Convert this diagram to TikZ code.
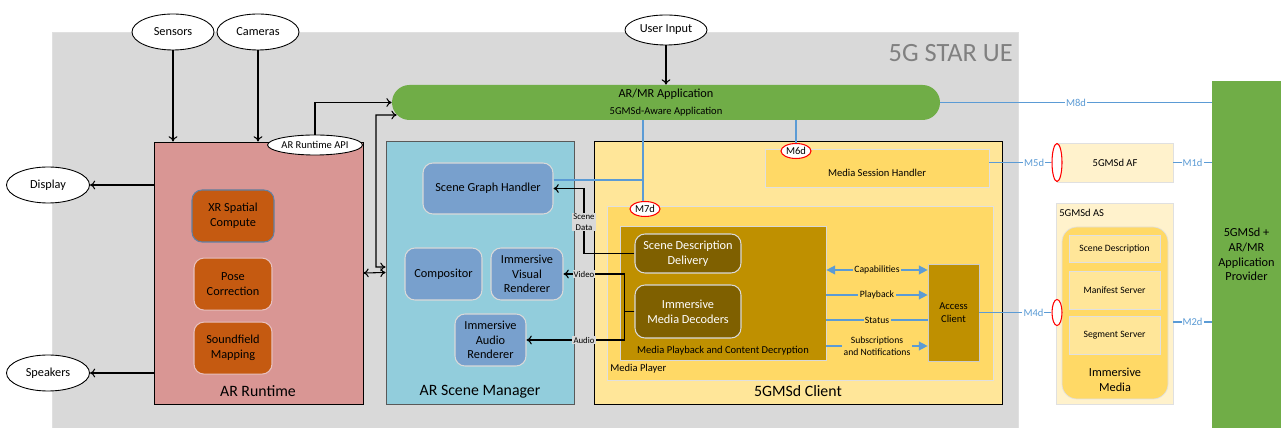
\documentclass[tikz,border=0pt]{standalone}
\usepackage{fontspec}
\setmainfont{Carlito}
\usetikzlibrary{positioning}
\usetikzlibrary{shapes.geometric}
\usetikzlibrary{arrows.meta}

\definecolor{uegray}{HTML}{D9D9D9}
\definecolor{rtpink}{HTML}{D99694}
\definecolor{rtorange}{HTML}{C55A11}
\definecolor{scmblue}{HTML}{92CDDC}
\definecolor{unitblue}{HTML}{78A0CD}
\definecolor{appgreen}{HTML}{70AD47}
\definecolor{clientyel}{HTML}{FFE699}
\definecolor{playeryel}{HTML}{FFD966}
\definecolor{playgold}{HTML}{BF9000}
\definecolor{sddbrown}{HTML}{7F6000}
\definecolor{cream}{HTML}{FFF2CC}
\definecolor{mblue}{HTML}{5B9BD5}

\begin{document}
\begin{tikzpicture}
      [ x=0.02cm, y=-0.02cm
        , node distance=0.3cm
        , every node/.style={inner sep=0pt, align=center, font=\fontsize{7}{8.4}\selectfont}
        , wh/.style 2 args={minimum width=#1*0.02cm, minimum height=#2*0.02cm}
        , fsmall/.style={font=\fontsize{6}{7.2}\selectfont}
        , ftiny/.style={font=\fontsize{5.5}{6.6}\selectfont}
        , fbig/.style={font=\fontsize{9}{11}\selectfont}
        , oval/.style={ellipse, draw, fill=white, line width=0.5pt}
        , ring/.style={ellipse, draw=red, fill=white, line width=0.6pt}
        , unit/.style={rectangle, rounded corners=0.2cm, draw=black!15, line width=0.6pt}
        , arr/.style={-{To[length=3pt,width=5pt]}, line width=0.6pt}
        , mline/.style={draw=mblue, line width=0.8pt}
        , barr/.style={mline, -{Triangle[length=5pt,width=5pt]}}
        , bbarr/.style={mline, {Triangle[length=5pt,width=5pt]}-{Triangle[length=5pt,width=5pt]}}
        , mtag/.style={fsmall, text=mblue, fill=white, inner sep=0.6pt}
        , ptag/.style={ftiny, fill=playeryel, inner sep=0.8pt}
        , gtag/.style={font=\fontsize{5}{6}\selectfont, fill=uegray, inner sep=0.6pt}
      ]
      \useasboundingbox (0,0) rectangle (1281,428);

      % UE frame
      \node (ue) [rectangle, fill=uegray, draw=black!12, wh={966}{396}] at (535,230) {};
      \node (uettl) [anchor=east, text=black!50, font=\fontsize{15}{18}\selectfont] at (1013,53) {5G STAR UE};

      \node (sensors) [oval, wh={82}{36}] at (173,32) {Sensors};
      \node (cameras) [oval, wh={82}{36}] at (258,32) {Cameras};
      \node (userin) [oval, wh={82}{30}] at (666,30) {User Input};
      \node (display) [oval, wh={83}{36}] at (48,185) {Display};
      \node (speakers) [oval, wh={83}{36}] at (48,373) {Speakers};

      % AR runtime
      \node (runtime) [rectangle, draw, fill=rtpink, line width=0.5pt, wh={209}{262}] at (258.5,273) {};
      \node (rtlbl) [fbig] at (258,391) {AR Runtime};
      \node (xr) [unit, fill=rtorange, draw=unitblue!80!black, wh={82}{52}] at (233,216) {XR Spatial\\Compute};
      \node (pose) [unit, fill=rtorange, draw=rtpink!60!white, wh={78}{52}, below=0.3cm of xr] {Pose\\Correction};
      \node (sound) [unit, fill=rtorange, draw=rtpink!60!white, wh={78}{52}, below=0.22cm of pose] {Soundfield\\Mapping};
      \node (rtapi) [oval, fsmall, wh={90}{20}] at (315,145) {AR Runtime API};

      % application
      \node (app) [rectangle, rounded corners=0.35cm, fill=appgreen, wh={548}{35}] at (666,102.5)
            {AR/MR Application\\[1pt]{\fontsize{6}{7}\selectfont 5GMSd-Aware Application}};

      % scene manager
      \node (scm) [rectangle, draw=black!65, fill=scmblue, line width=0.5pt, wh={188}{263}] at (480,272.5) {};
      \node (scmlbl) [fbig] at (480,392) {AR Scene Manager};
      \node (sgh) [unit, fill=unitblue, wh={130}{51}] at (488,188.5) {Scene Graph Handler};
      \node (comp) [unit, fill=unitblue, wh={77}{52}] at (443.5,274) {Compositor};
      \node (visual) [unit, fill=unitblue, wh={72}{52}] at (527,274) {Immersive\\Visual\\Renderer};
      \node (audio) [unit, fill=unitblue, wh={71}{52}] at (490.5,340) {Immersive\\Audio\\Renderer};

      % 5GMSd client
      \node (client) [rectangle, draw, fill=clientyel, line width=0.5pt, wh={408}{263}] at (798,272.5) {};
      \node (clientlbl) [fbig] at (798,391) {5GMSd Client};
      \node (msh) [rectangle, fill=playeryel, draw=black!12, fsmall, wh={224}{38}] at (877,168) {\\[2pt]Media Session Handler};
      \node (player) [rectangle, fill=playeryel, draw=black!12, wh={386}{174}] at (800,293) {};
      \node (playerlbl) [fsmall, anchor=west] at (610,369) {Media Player};
      \node (playback) [rectangle, fill=playgold, draw=black!15, wh={206}{134}] at (723,293) {};
      \node (playbacklbl) [fsmall] at (723,351) {Media Playback and Content Decryption};
      \node (sdd) [unit, fill=sddbrown, text=white, wh={106}{39}] at (688,253.5) {Scene Description\\Delivery};
      \node (decoders) [unit, fill=sddbrown, text=white, wh={106}{53}] at (688,311.5) {Immersive\\Media Decoders};
      \node (access) [rectangle, fill=playgold, draw=black!20, fsmall, wh={51}{97}] at (953.5,312.5) {Access\\Client};

      % network side
      \node (af) [rectangle, fill=cream, draw=black!12, fsmall, wh={116}{39}] at (1115,162.5) {5GMSd AF};
      \node (as) [rectangle, fill=cream, draw=black!12, wh={117}{201}] at (1114.5,303.5) {};
      \node (aslbl) [fsmall, anchor=west] at (1059,213) {5GMSd AS};
      \node (immersive) [rectangle, rounded corners=0.3cm, fill=playeryel, draw=black!12, wh={106}{172}] at (1115,313) {};
      \node (immlbl) at (1115,380) {Immersive\\Media};
      \node (scdesc) [rectangle, fill=clientyel, draw=black!12, ftiny, wh={91}{27}] at (1114.5,248.5) {Scene Description};
      \node (manifest) [rectangle, fill=clientyel, draw=black!12, ftiny, wh={91}{38}] at (1114.5,290) {Manifest Server};
      \node (segment) [rectangle, fill=clientyel, draw=black!12, ftiny, wh={91}{38}] at (1114.5,335) {Segment Server};
      \node (provider) [rectangle, fill=appgreen, wh={69}{347}] at (1246.5,254.5) {5GMSd +\\AR/MR\\Application\\Provider};

      \node (afring) [ring, wh={10}{38}] at (1057,162.5) {};
      \node (asring) [ring, wh={10}{26}] at (1057,312.5) {};
      \node (m6d) [ring, fsmall, wh={30}{15}] at (796,151) {M6d};
      \node (m7d) [ring, fsmall, wh={30}{15}] at (645,209) {M7d};

      % device arrows
      \draw[arr] (sensors) -- (sensors |- runtime.north);
      \draw[arr] (cameras) -- (cameras |- runtime.north);
      \draw[arr] (userin) -- (app);
      \draw[arr] (runtime.west |- display) -- (display);
      \draw[arr] (runtime.west |- speakers) -- (speakers);
      \draw[arr] (rtapi.north) |- (app.west);
      \draw[arr, {To[length=3pt,width=5pt]}-{To[length=3pt,width=5pt]}] (scm.west |- 0,267) -| (376,115) -- ([xshift=0.1cm,yshift=-0.25cm]app.west);
      \draw[arr, {To[length=3pt,width=5pt]}-{To[length=3pt,width=5pt]}] (runtime.east) -- (scm.west);

      % reference points
      \draw[mline, line width=0.6pt] (app.south -| m6d) -- (m6d.north);
      \draw[mline, line width=0.6pt] (app.south -| 643,0) -- (m7d.north -| 643,0);
      \draw[mline, line width=0.6pt] (sgh.east |- 0,180) -- (643,180);

      % media data
      \draw[arr] (sdd.west) -| (sgh.east -| 584,0) -- (sgh.east);
      \draw[arr] (decoders.west) -- ++(-0.2cm,0) |- (visual.east);
      \draw[arr] (decoders.west) -- ++(-0.2cm,0) |- (audio.east);
      \node (scenedata) [gtag] at (584,222) {Scene\\Data};
      \node (videotag) [gtag] at (584,274) {Video};
      \node (audiotag) [gtag] at (584,340) {Audio};

      % playback to access client
      \draw[bbarr] (playback.east |- 0,270) -- node[ptag]{Capabilities} (access.west |- 0,270);
      \draw[barr] (playback.east |- 0,295) -- node[ptag]{Playback} (access.west |- 0,295);
      \draw[mline] (playback.east |- 0,320) -- node[ptag]{Status} (access.west |- 0,320);
      \draw[barr] (playback.east |- 0,346) -- node[ptag]{Subscriptions\\and Notifications} (access.west |- 0,346);

      % interfaces
      \draw[mline] (app.east) -- node[mtag]{M8d} (provider.west |- app.east);
      \draw[mline] (msh.east |- afring) -- node[mtag, pos=0.72]{M5d} (afring.west);
      \draw[mline] (af.east) -- node[mtag]{M1d} (provider.west |- af.east);
      \draw[mline] (access.east) -- node[mtag, pos=0.75]{M4d} (asring.west);
      \draw[mline] (as.east |- 0,322) -- node[mtag]{M2d} (provider.west |- 0,322);

    \end{tikzpicture}
\end{document}
